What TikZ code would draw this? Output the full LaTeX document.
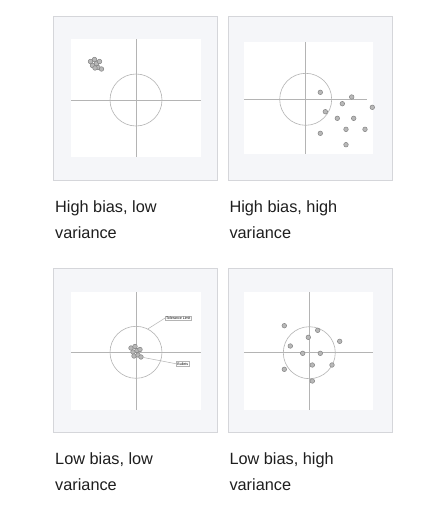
\documentclass[tikz,border=0pt]{standalone}
\usepackage{fontspec}
\setmainfont{Liberation Sans}
\usetikzlibrary{positioning}
\definecolor{panelbg}{HTML}{F5F6F9}
\definecolor{panelline}{HTML}{D5D6DA}
\definecolor{axisgray}{HTML}{B4B4B4}
\definecolor{shotfill}{HTML}{B8B8B8}
\definecolor{shotline}{HTML}{858585}
\definecolor{captiontext}{HTML}{1E1E1E}

\begin{document}
\begin{tikzpicture}[x=1pt,y=-1pt,
  panel/.style={draw=panelline,fill=panelbg,line width=1pt,minimum width=164pt,minimum height=164pt,inner sep=0,anchor=north west},
  target/.style={fill=white,inner sep=0,anchor=north west},
  axis/.style={draw=axisgray,line width=0.6pt},
  limit/.style={circle,draw=axisgray,line width=0.6pt,minimum size=52pt,inner sep=0},
  shot/.style={circle,draw=shotline,fill=shotfill,line width=0.5pt,minimum size=4.6pt,inner sep=0},
  caption/.style={anchor=base west,inner sep=0,text=captiontext,font=\fontsize{16.3}{20}\selectfont},
  tag/.style={draw=axisgray,fill=white,line width=0.4pt,inner sep=0.9pt,font=\fontsize{3.6}{4}\selectfont}]

\useasboundingbox (0,0) rectangle (425,512);

\node (p1) [panel] at (53,16) {};
\node (p2) [panel] at (228,16) {};
\node (p3) [panel] at (53,268) {};
\node (p4) [panel] at (228,268) {};

\node (t1) [target,minimum width=130pt,minimum height=118pt] at (71,39) {};
\node (t2) [target,minimum width=129pt,minimum height=112pt] at (244,42) {};
\node (t3) [target,minimum width=130pt,minimum height=118pt] at (71,292) {};
\node (t4) [target,minimum width=129pt,minimum height=118pt] at (244,292) {};

\coordinate (c1) at (136,100);
\coordinate (c2) at (305.7,99.3);
\coordinate (c3) at (136,352.3);
\coordinate (c4) at (309.3,352.7);

\foreach \n in {1,3,4} {
  \draw[axis] (c\n |- t\n.north) -- (c\n |- t\n.south);
  \draw[axis] (c\n -| t\n.west) -- (c\n -| t\n.east);
}
\draw[axis] (c2 |- t2.north) -- (c2 |- t2.south);
\draw[axis] (c2 -| t2.west) -- ([xshift=-6pt]c2 -| t2.east);

\foreach \n in {1,...,4}
  \node (l\n) [limit] at (c\n) {};

% shots
\foreach \x/\y [count=\i] in {90.5/61.5,94.5/59.5,92.5/65.5,96.5/63.5,99.5/61.5,98/67.5,101.5/69,95/68}
  \node (s1-\i) [shot] at (\x,\y) {};
\foreach \x/\y [count=\i] in {320.3/92.3,351.7/97,342.3/103.7,372.3/107.3,325.3/111.7,337.3/118.3,353.7/118.3,320.3/133.3,346/129.3,365/129.3,346/144.7}
  \node (s2-\i) [shot] at (\x,\y) {};
\foreach \x/\y [count=\i] in {131/348,135/346.5,133/352,137/350.5,140/349.5,134/356,138/355,141/357}
  \node (s3-\i) [shot] at (\x,\y) {};
\foreach \x/\y [count=\i] in {284.3/325.7,317.7/330.3,308.3/337.3,339.7/341.3,290.3/346,302.7/353.3,320.3/353.3,312.3/365,332/365,284.3/369.3,312.3/381}
  \node (s4-\i) [shot] at (\x,\y) {};

\node (tol) [tag] at (178.3,318) {Tolerance Limit};
\node (bul) [tag] at (182.8,363.8) {Bullets};
\draw[axis,line width=0.5pt] (l3.63) -- (tol.west);
\draw[axis,line width=0.5pt] (s3-8) -- (bul.west);

\node (cap1) [caption] at (55,212) {High bias, low};
\node (cap1b) [caption,below=26pt of cap1.base west,anchor=base west] {variance};
\node (cap2) [caption] at (229.3,212) {High bias, high};
\node (cap2b) [caption,below=26pt of cap2.base west,anchor=base west] {variance};
\node (cap3) [caption] at (55,464.5) {Low bias, low};
\node (cap3b) [caption,below=26pt of cap3.base west,anchor=base west] {variance};
\node (cap4) [caption] at (229.3,464.5) {Low bias, high};
\node (cap4b) [caption,below=26pt of cap4.base west,anchor=base west] {variance};
\end{tikzpicture}
\end{document}
